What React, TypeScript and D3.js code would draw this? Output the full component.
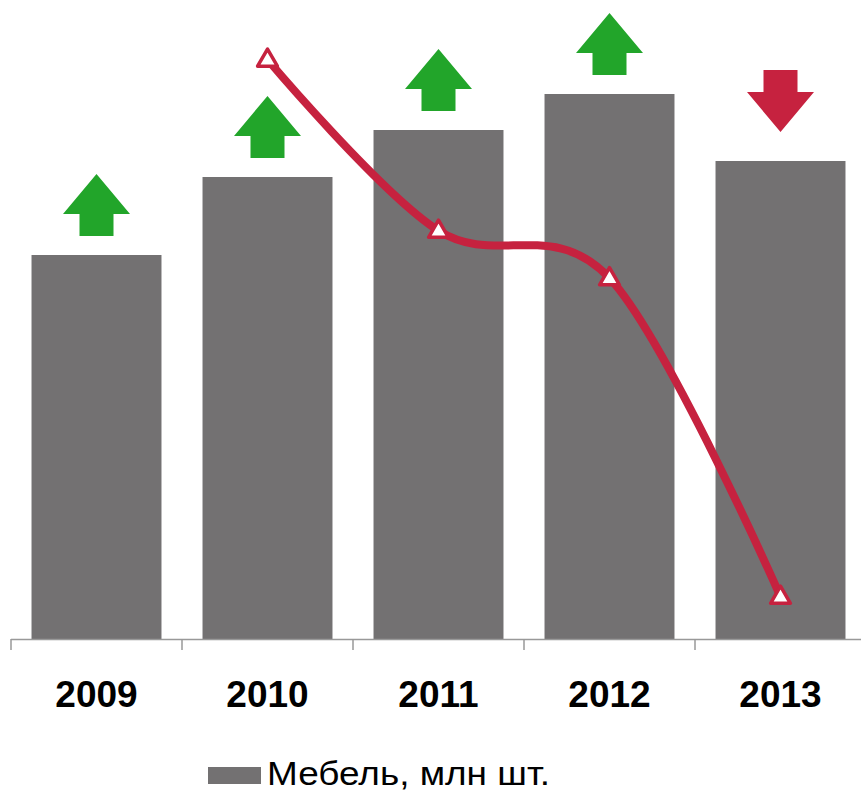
import React from 'react';
import * as d3 from 'd3';

// data
const years = ['2009', '2010', '2011', '2012', '2013'];
const furniture = [38.4, 46.2, 50.9, 54.5, 47.8]; // млн шт.
const growth: (number | null)[] = [null, 20.2, 10.1, 7.3, -11.5];
const trend = ['up', 'up', 'up', 'up', 'down'];
const legendLabel = 'Мебель, млн шт.';

const W = 861, H = 794;
const BAR = '#737172', RED = '#C6223F', GREEN = '#22A52A';
const font = 'Liberation Sans, Arial, sans-serif';

export default function App() {
  const x = d3.scaleBand<string>().domain(years).range([11, 866])
    .paddingInner(0.24).paddingOuter(0.12);
  const y = d3.scaleLinear().domain([0, 60]).range([639, 39]);
  const y2 = d3.scaleLinear().domain([-14, 22]).range([639, 29]);
  const cx = (i: number) => (x(years[i]) as number) + x.bandwidth() / 2;

  const pts = growth
    .map((v, i) => (v === null ? null : ([cx(i), y2(v)] as [number, number])))
    .filter((p): p is [number, number] => p !== null);
  const line = d3.line().curve(d3.curveCardinal.tension(0));
  const tri = d3.symbol(d3.symbolTriangle, 170)();

  // arrow shape: head 67 wide x 40 tall, stem 34 wide x 22 tall
  const arrowUp = (mx: number, bottom: number) => {
    const top = bottom - 62, hb = bottom - 22;
    return `M${mx},${top}L${mx + 33.5},${hb}L${mx + 17},${hb}L${mx + 17},${bottom}` +
      `L${mx - 17},${bottom}L${mx - 17},${hb}L${mx - 33.5},${hb}Z`;
  };
  const arrowDown = (mx: number, tip: number) => {
    const top = tip - 62, hb = tip - 40;
    return `M${mx},${tip}L${mx + 33.5},${hb}L${mx + 17},${hb}L${mx + 17},${top}` +
      `L${mx - 17},${top}L${mx - 17},${hb}L${mx - 33.5},${hb}Z`;
  };

  const ticks = years.map((_, i) => (x(years[i]) as number) - x.step() * x.paddingInner() / 2);
  ticks.push(x.range()[1]);

  return (
    <svg width={W} height={H} style={{ position: 'absolute', left: 0, top: 0 }}>
      <rect width={W} height={H} fill="#fff" />
      {furniture.map((v, i) => (
        <rect key={years[i]} x={x(years[i])} y={y(v)} width={x.bandwidth()}
          height={y(0) - y(v)} fill={BAR} />
      ))}
      <line x1={11} x2={866} y1={639.5} y2={639.5} stroke="#999" strokeWidth={1.5} />
      {ticks.map((t, i) => (
        <line key={i} x1={t} x2={t} y1={639} y2={650} stroke="#999" strokeWidth={1.5} />
      ))}
      {years.map((yr, i) => (
        <text key={yr} x={cx(i)} y={707} textAnchor="middle" fontFamily={font}
          fontWeight="bold" fontSize={37} fill="#000">{yr}</text>
      ))}
      {furniture.map((v, i) => (
        <path key={'a' + i}
          d={trend[i] === 'up' ? arrowUp(cx(i), y(v) - 19) : arrowDown(cx(i), y(v) - 29)}
          fill={trend[i] === 'up' ? GREEN : RED} />
      ))}
      <path d={line(pts) as string} fill="none" stroke={RED} strokeWidth={8}
        strokeLinecap="round" />
      {pts.map((p, i) => (
        <path key={'m' + i} d={tri as string} transform={`translate(${p[0]},${p[1] + 1})`}
          fill="#fff" stroke={RED} strokeWidth={3.5} strokeLinejoin="round" />
      ))}
      <rect x={208} y={767} width={53} height={17} fill={BAR} />
      <text x={267} y={785} fontFamily={font} fontSize={34} textLength={283}
        lengthAdjust="spacingAndGlyphs" fill="#000">{legendLabel}</text>
    </svg>
  );
}
